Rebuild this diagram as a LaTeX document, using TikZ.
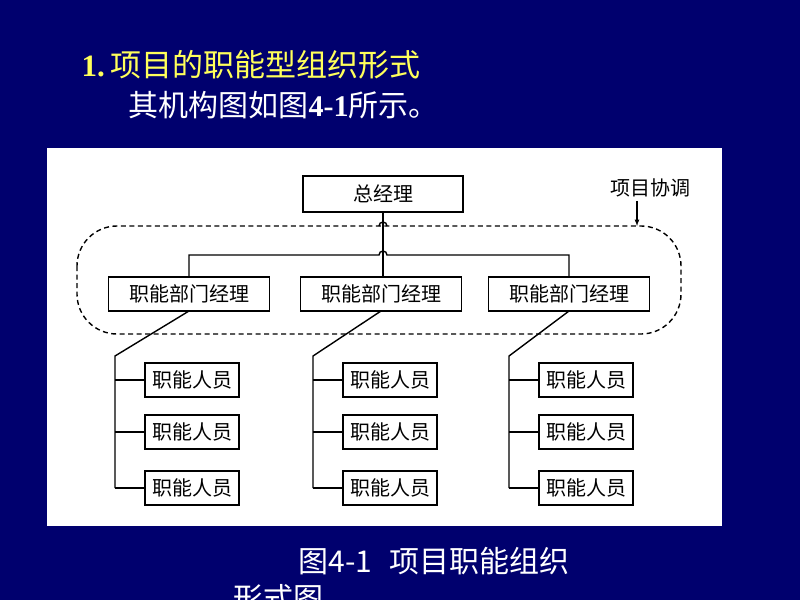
\documentclass[tikz,border=0pt]{standalone}
\usepackage{fontspec}
\setmainfont{Liberation Serif}
\newfontfamily\cjk{Noto Sans CJK SC}
\usetikzlibrary{positioning,calc}
\definecolor{slidebg}{RGB}{0,0,110}
\definecolor{titleyellow}{RGB}{255,255,90}

\begin{document}
\begin{tikzpicture}[x=1pt,y=-1pt,line width=1.4pt,
				block/.style={draw,rectangle,outer sep=0pt,inner sep=0pt,minimum height=34pt,
					font=\cjk\fontsize{20}{20}\selectfont},
				dept/.style={block,minimum width=161pt},
				staff/.style={block,minimum width=94pt},
				slidetext/.style={anchor=west,inner sep=0pt,font=\fontsize{30}{30}\selectfont}]
				\fill[slidebg] (0,0) rectangle (800,600);
				\useasboundingbox (0,0) rectangle (800,600);
				\fill[white] (47,148) rectangle (722,526);

				\node (TITLE) [slidetext,text=titleyellow,font=\fontsize{31}{31}\selectfont] at (81,65) {\textbf{1.}\,{\cjk 项目的职能型组织形式}};
				\node (INTRO) [slidetext,text=white] at (128,105) {{\cjk 其机构图如图}\textbf{4-1}{\cjk 所示。}};

				\node (GM)    [block,minimum width=160pt,minimum height=36pt] at (383,194) {总经理};
				\node (D1)    [dept] at (189,294) {职能部门经理};
				\node (D2)    [dept] at (381,294) {职能部门经理};
				\node (D3)    [dept] at (569,294) {职能部门经理};
				\node (COORD) [font=\cjk\fontsize{20}{20}\selectfont,inner sep=0pt] at (650,188) {项目协调};
				\coordinate (BAR)     at (GM.south |- 0,255);
				\coordinate (LOOPTOP) at (GM.south |- 0,226);
				\coordinate (COORDTIP) at (637,226);

				\draw[dash pattern=on 5pt off 3.5pt,rounded corners=40pt] (77,226) rectangle (681,334);
				\draw[-latex,line width=1.2pt] (COORD.south -| COORDTIP) ++(0,3) -- (COORDTIP);
				\draw (GM.south) -- (GM.south |- D2.north);
				\draw (D1.north) |- ($(BAR)+(-4,0)$) arc[start angle=180,end angle=360,radius=4] -| (D3.north);
				\draw ($(LOOPTOP)+(-4,0)$) arc[start angle=180,end angle=360,radius=4];

				\foreach \col/\tx/\bx in {1/115/192,2/313/390,3/509/586} {
					\coordinate (K\col) at (\tx,356);
					\foreach \row/\by in {1/380,2/432,3/488} {
						\node (S\col\row) [staff] at (\bx,\by) {职能人员};
						\draw (K\col |- S\col\row) -- (S\col\row.west);
					}
					\draw (D\col.south) -- (K\col) -- (K\col |- S\col3);
				}

				\node (CAPTION) [slidetext,text=white,font=\cjk\fontsize{30}{30}\selectfont] at (298,561) {图4-1\hspace{10pt} 项目职能组织};
				\node (CAPTION2) [slidetext,text=white,font=\cjk\fontsize{30}{30}\selectfont] at (233,598) {形式图};
\end{tikzpicture}
\end{document}
